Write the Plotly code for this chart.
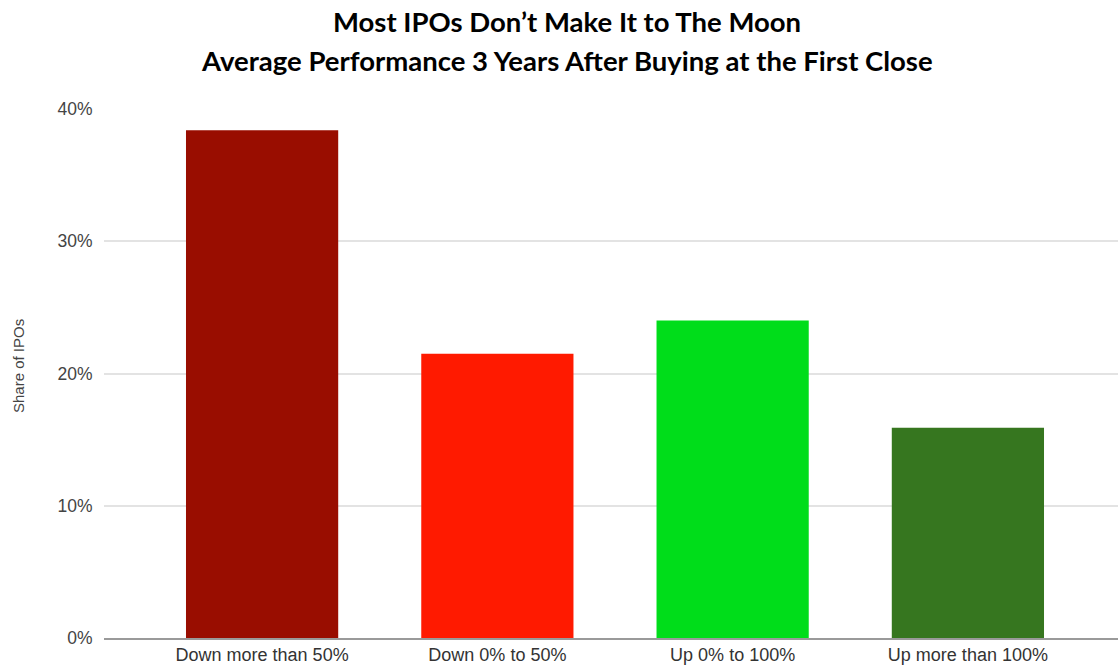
import plotly.graph_objects as go

categories = ["Down more than 50%", "Down 0% to 50%", "Up 0% to 100%", "Up more than 100%"]
share = [38.4, 21.5, 24.0, 15.9]
colors = ["#990d00", "#ff1a00", "#00dd1a", "#36761f"]
yticks = [0, 10, 20, 30, 40]
yticklabels = ["0%", "10%", "20%", "30%", "40%"]
title_lines = ["Most IPOs Don’t Make It to The Moon",
               "Average Performance 3 Years After Buying at the First Close"]

fig = go.Figure(go.Bar(x=list(range(len(categories))), y=share, marker=dict(color=colors, line=dict(width=0)),
                       width=0.647, hoverinfo="skip"))

title_font = dict(family="Lato, Open Sans, sans-serif", size=27.5, color="black", weight="bold")
annotations = [
    dict(text=title_lines[0], xref="paper", yref="paper", x=(567 - 104)/1014, y=(638 - 22)/529,
         xanchor="center", yanchor="middle", showarrow=False, font=title_font),
    dict(text=title_lines[1], xref="paper", yref="paper", x=(567 - 104)/1014, y=(638 - 60)/529,
         xanchor="center", yanchor="middle", showarrow=False, font=title_font),
    dict(text="Share of IPOs", textangle=-90, xref="paper", yref="paper",
         x=-86/1014, y=(638 - 366)/529, xanchor="center", yanchor="middle", showarrow=False,
         font=dict(family="Liberation Sans, Arial, sans-serif", size=15, color="#444")),
]

fig.update_layout(
    width=1118, height=667,
    paper_bgcolor="white", plot_bgcolor="white",
    margin=dict(l=104, r=0, t=109, b=29, autoexpand=False),
    showlegend=False,
    xaxis=dict(
        range=[-0.672, 3.638],
        tickmode="array", tickvals=list(range(len(categories))), ticktext=categories,
        showgrid=False, zeroline=False, showline=True, linecolor="#9a9a9a", linewidth=1.5,
        ticks="", tickfont=dict(family="Liberation Sans, Arial, sans-serif", size=18, color="#333"),
        fixedrange=True,
    ),
    yaxis=dict(
        range=[0, 40],
        tickmode="array", tickvals=yticks, ticktext=yticklabels,
        showgrid=True, gridcolor="#e3e3e3", gridwidth=1.5, zeroline=False, showline=False,
        ticks="outside", ticklen=7, tickcolor="rgba(0,0,0,0)",
        tickfont=dict(family="Liberation Sans, Arial, sans-serif", size=17.5, color="#444"),
        fixedrange=True,
    ),
    annotations=annotations,
)

fig.write_html("out.html", config={"displayModeBar": False})
